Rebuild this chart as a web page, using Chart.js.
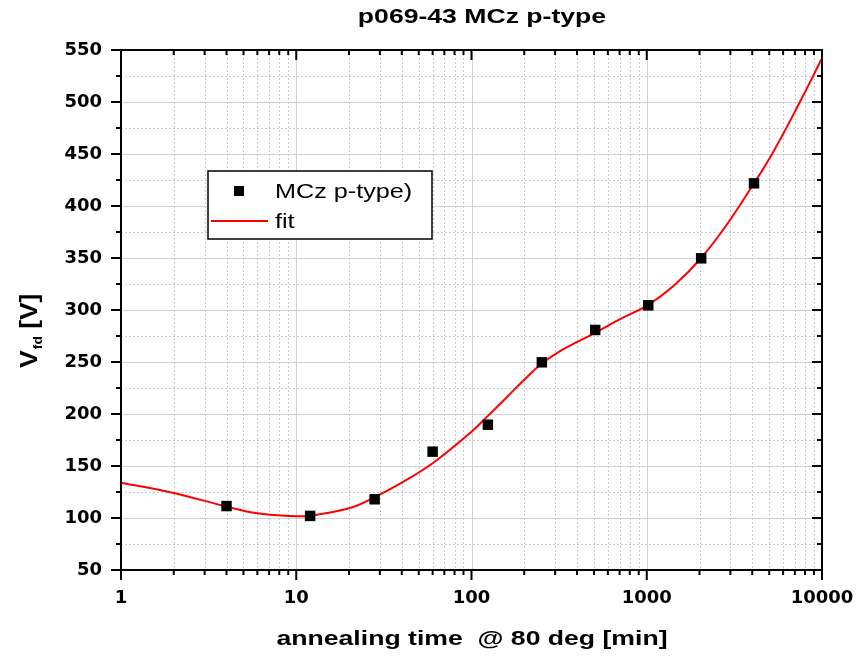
<!DOCTYPE html>
<html>
<head>
<meta charset="utf-8">
<script src="https://cdn.jsdelivr.net/npm/chart.js@4"></script>
<style>
  body { margin: 0; background: #fff; }
  #wrap { width: 868px; height: 662px; }
</style>
</head>
<body>
<div id="wrap"><canvas id="c"></canvas></div>
<script>
// measured points
const timeMin = [4, 12, 28, 60, 124, 252, 508, 1020, 2044, 4092];
const vfd = [111.5, 102, 118, 163.8, 189.7, 249.7, 280.8, 304.5, 349.7, 421.8];

// fit curve
const fitTime = [1, 2, 4, 6, 9, 12, 20, 28, 40, 60, 100, 122, 160, 200, 250, 320, 500, 700, 1020, 1420, 2044, 2860, 4092, 5270, 7480, 10000];
const fitV = [134, 124, 111, 104.5, 102, 102.2, 109.3, 120, 134, 152.6, 183, 197, 216.6, 233, 248, 260.5, 277.6, 291, 305, 323, 350, 382, 421.8, 452, 500, 542];

const xMajor = [1, 10, 100, 1000, 10000];
const yMajor = [50, 100, 150, 200, 250, 300, 350, 400, 450, 500, 550];
const yMinor = [75, 125, 175, 225, 275, 325, 375, 425, 475, 525];

const titleText = 'p069-43 MCz p-type';
const xTitle = 'annealing time  @ 80 deg [min]';

const ARIAL = '"Liberation Sans", Arial, sans-serif';

function wideText(ctx, txt, x, y, sx) {
  ctx.save();
  ctx.translate(x, y);
  ctx.scale(sx, 1);
  ctx.fillText(txt, 0, 0);
  ctx.restore();
}

// minor log positions: 2..9 in every decade
function xMinorVals() {
  const out = [];
  for (let i = 0; i < xMajor.length - 1; i++)
    for (let m = 2; m <= 9; m++) out.push(xMajor[i] * m);
  return out;
}

const originLook = {
  id: 'originLook',
  beforeDatasetsDraw(chart) {
    const { ctx, chartArea: a, scales: { x, y } } = chart;
    ctx.save();
    ctx.lineWidth = 1;
    // dotted minor grid
    ctx.strokeStyle = '#c8c8c8';
    ctx.setLineDash([2, 2]);
    ctx.beginPath();
    xMinorVals().forEach(v => {
      const px = Math.round(x.getPixelForValue(v)) + 0.5;
      ctx.moveTo(px, a.top); ctx.lineTo(px, a.bottom);
    });
    yMinor.forEach(v => {
      const py = Math.round(y.getPixelForValue(v)) + 0.5;
      ctx.moveTo(a.left, py); ctx.lineTo(a.right, py);
    });
    ctx.stroke();
    // solid major grid
    ctx.setLineDash([]);
    ctx.strokeStyle = '#d2d2d2';
    ctx.beginPath();
    xMajor.forEach(v => {
      const px = Math.round(x.getPixelForValue(v)) + 0.5;
      ctx.moveTo(px, a.top); ctx.lineTo(px, a.bottom);
    });
    yMajor.forEach(v => {
      const py = Math.round(y.getPixelForValue(v)) + 0.5;
      ctx.moveTo(a.left, py); ctx.lineTo(a.right, py);
    });
    ctx.stroke();
    ctx.restore();
  },
  afterDatasetsDraw(chart) {
    const { ctx, chartArea: a, scales: { x, y } } = chart;
    ctx.save();
    ctx.strokeStyle = '#000';
    ctx.lineWidth = 2;
    ctx.strokeRect(a.left, a.top, a.right - a.left, a.bottom - a.top);
    ctx.beginPath();
    // x ticks: bottom outward, top inward
    xMajor.forEach(v => {
      const px = x.getPixelForValue(v);
      ctx.moveTo(px, a.bottom); ctx.lineTo(px, a.bottom + 10);
      ctx.moveTo(px, a.top); ctx.lineTo(px, a.top + 10);
    });
    xMinorVals().forEach(v => {
      const px = x.getPixelForValue(v);
      ctx.moveTo(px, a.bottom); ctx.lineTo(px, a.bottom + 5);
      ctx.moveTo(px, a.top); ctx.lineTo(px, a.top + 5);
    });
    // y ticks: left outward, right inward
    yMajor.forEach(v => {
      const py = y.getPixelForValue(v);
      ctx.moveTo(a.left - 10, py); ctx.lineTo(a.left, py);
      ctx.moveTo(a.right - 10, py); ctx.lineTo(a.right, py);
    });
    yMinor.forEach(v => {
      const py = y.getPixelForValue(v);
      ctx.moveTo(a.left - 5, py); ctx.lineTo(a.left, py);
      ctx.moveTo(a.right - 5, py); ctx.lineTo(a.right, py);
    });
    ctx.stroke();

    // legend box
    const ds = chart.data.datasets;
    ctx.fillStyle = '#fff';
    ctx.fillRect(208, 171, 224, 68);
    ctx.lineWidth = 1.5;
    ctx.strokeRect(208, 171, 224, 68);
    ctx.fillStyle = '#000';
    ctx.fillRect(234, 186, 10, 10);
    ctx.strokeStyle = '#ff0000';
    ctx.lineWidth = 2;
    ctx.beginPath();
    ctx.moveTo(211, 221); ctx.lineTo(268, 221);
    ctx.stroke();
    ctx.fillStyle = '#000';
    ctx.font = '21px ' + ARIAL;
    ctx.textAlign = 'left';
    ctx.textBaseline = 'middle';
    wideText(ctx, ds[0].label, 275, 192, 1.2);
    wideText(ctx, ds[1].label, 275, 222, 1.2);
    ctx.restore();
  },
  afterDraw(chart) {
    const { ctx } = chart;
    ctx.save();
    ctx.fillStyle = '#000';
    ctx.textBaseline = 'middle';
    ctx.textAlign = 'center';
    ctx.font = 'bold 20px ' + ARIAL;
    wideText(ctx, titleText, 482, 17, 1.33);
    wideText(ctx, xTitle, 472, 639, 1.33);

    // y title with subscript, rotated
    ctx.translate(37, 368);
    ctx.rotate(-Math.PI / 2);
    ctx.scale(1.15, 1);
    ctx.textAlign = 'left';
    ctx.textBaseline = 'alphabetic';
    ctx.font = 'bold 23px ' + ARIAL;
    ctx.fillText('V', 0, 0);
    let w = ctx.measureText('V').width;
    ctx.font = 'bold 12px ' + ARIAL;
    ctx.fillText('fd', w + 1, 5);
    w += ctx.measureText('fd').width + 1;
    ctx.font = 'bold 23px ' + ARIAL;
    ctx.fillText(' [V]', w, 0);
    ctx.restore();
  }
};

new Chart(document.getElementById('c').getContext('2d'), {
  type: 'scatter',
  data: {
    datasets: [{
      label: 'MCz p-type)',
      data: timeMin.map((t, i) => ({ x: t, y: vfd[i] })),
      pointStyle: 'rect',
      pointRadius: 7.4,
      pointBorderWidth: 0,
      backgroundColor: '#000',
      borderColor: '#000'
    }, {
      label: 'fit',
      data: fitTime.map((t, i) => ({ x: t, y: fitV[i] })),
      showLine: true,
      pointRadius: 0,
      borderColor: '#ff0000',
      borderWidth: 2,
      tension: 0.4
    }]
  },
  options: {
    responsive: true,
    maintainAspectRatio: false,
    animation: false,
    layout: { padding: { top: 50, right: 46, left: 0, bottom: 0 } },
    plugins: {
      legend: { display: false },
      tooltip: { enabled: false }
    },
    scales: {
      x: {
        type: 'logarithmic',
        min: 1,
        max: 10000,
        grid: { display: false, drawTicks: false },
        border: { display: false },
        afterFit: s => { s.height = 92; s.paddingLeft = 0; s.paddingRight = 0; },
        ticks: {
          autoSkip: false,
          maxRotation: 0,
          padding: 18,
          color: '#000',
          font: { family: '"DejaVu Sans"', weight: 'bold', size: 18 },
          callback: v => xMajor.includes(v) ? String(v) : ''
        }
      },
      y: {
        min: 50,
        max: 550,
        grid: { display: false, drawTicks: false },
        border: { display: false },
        afterFit: s => { s.width = 121; s.paddingTop = 0; s.paddingBottom = 0; },
        ticks: {
          stepSize: 50,
          padding: 19,
          color: '#000',
          font: { family: '"DejaVu Sans"', weight: 'bold', size: 18 }
        }
      }
    }
  },
  plugins: [originLook]
});
</script>
</body>
</html>
